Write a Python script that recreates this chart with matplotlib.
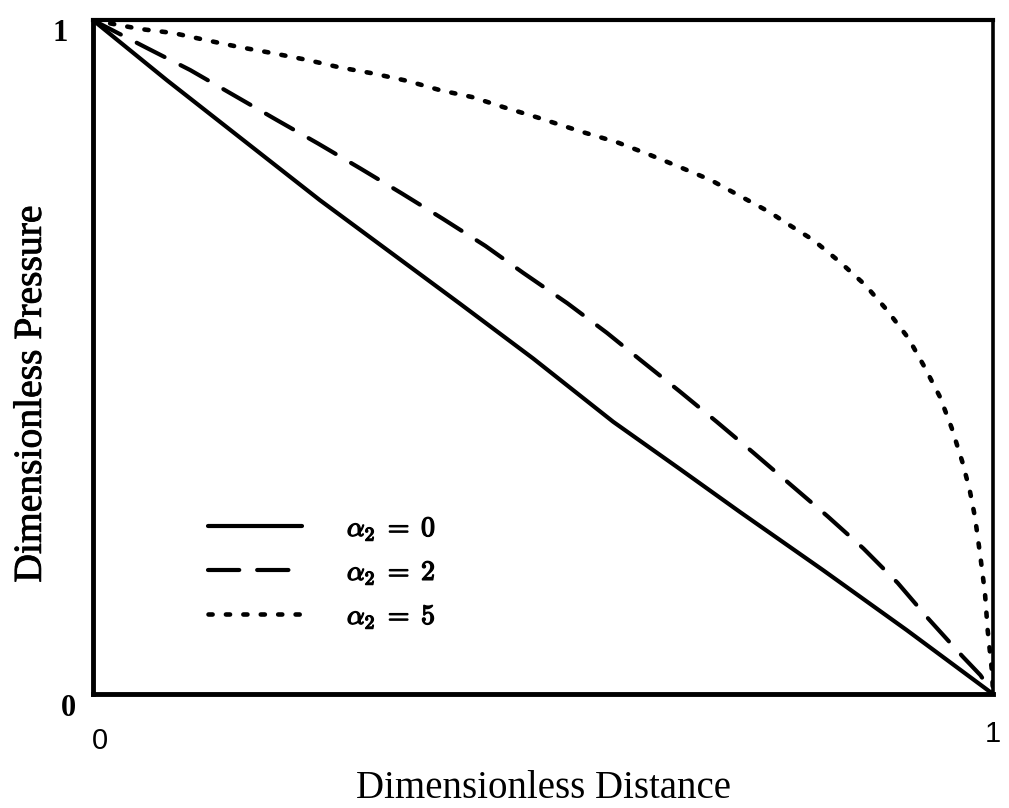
import matplotlib
matplotlib.use("Agg")
import matplotlib.pyplot as plt
import matplotlib.transforms as mtrans
import matplotlib.patheffects as pe

plt.rcParams['mathtext.fontset'] = 'cm'

# Data
x_a0 = [0.0, 0.082, 0.167, 0.252, 0.330, 0.408, 0.489, 0.578, 0.652, 0.719,
        0.811, 0.904, 1.0]
y_a0 = [1.0, 0.911, 0.822, 0.733, 0.656, 0.579, 0.498, 0.404, 0.334, 0.270,
        0.184, 0.095, 0.0]

x_a2 = [0.0, 0.058, 0.108, 0.156, 0.204, 0.250, 0.297, 0.343, 0.389, 0.436,
        0.478, 0.527, 0.571, 0.608, 0.652, 0.693, 0.733, 0.774, 0.816, 0.856,
        0.894, 0.928, 0.966, 0.986, 1.0]
y_a2 = [1.0, 0.960, 0.926, 0.889, 0.852, 0.817, 0.780, 0.743, 0.705, 0.665,
        0.625, 0.580, 0.536, 0.496, 0.449, 0.404, 0.359, 0.312, 0.264, 0.216,
        0.165, 0.112, 0.056, 0.028, 0.0]

x_a5 = [0.0, 0.052, 0.089, 0.127, 0.163, 0.200, 0.238, 0.274, 0.311, 0.349,
        0.386, 0.421, 0.456, 0.493, 0.544, 0.582, 0.619, 0.652, 0.686, 0.719,
        0.752, 0.769, 0.800, 0.830, 0.858, 0.882, 0.906, 0.924, 0.941, 0.954,
        0.966, 0.974, 0.980, 0.986, 0.991, 0.994, 0.999, 1.0]
y_a5 = [1.0, 0.987, 0.981, 0.970, 0.960, 0.951, 0.941, 0.930, 0.921, 0.910,
        0.896, 0.886, 0.871, 0.856, 0.834, 0.819, 0.800, 0.782, 0.763, 0.739,
        0.715, 0.700, 0.674, 0.641, 0.607, 0.570, 0.528, 0.485, 0.441, 0.395,
        0.344, 0.303, 0.262, 0.203, 0.150, 0.095, 0.031, 0.0]

labels = [r'$\alpha_2\;=\;0$', r'$\alpha_2\;=\;2$', r'$\alpha_2\;=\;5$']
x_ticks = [0, 1]
x_ticklabels = ['0', '1']
y_ticks = [0, 1]
y_ticklabels = ['0', '1']

fig = plt.figure(figsize=(10.09, 8.08), dpi=100)
ax = fig.add_axes([0.0922, 0.141, 0.892, 0.834])

lw = 3.0
ax.plot(x_a0, y_a0, color='black', lw=lw, solid_capstyle='round',
        solid_joinstyle='round', label=labels[0])
ax.plot(x_a2, y_a2, color='black', lw=lw, linestyle=(0, (7.5, 4.3)),
        dash_capstyle='round', dash_joinstyle='round', label=labels[1])
ax.plot(x_a5, y_a5, color='black', lw=3.3, linestyle=(0, (0.9, 2.9)),
        dash_capstyle='round', dash_joinstyle='round', label=labels[2])

ax.set_xlim(0, 1)
ax.set_ylim(0, 1)
ax.spines['left'].set_linewidth(3.5)
ax.spines['bottom'].set_linewidth(3.5)
ax.spines['top'].set_linewidth(3.0)
ax.spines['right'].set_linewidth(2.6)

ax.set_xticks(x_ticks)
ax.set_xticklabels(x_ticklabels, fontfamily='Liberation Sans', fontsize=21)
ax.set_yticks(y_ticks)
ax.set_yticklabels(y_ticklabels, fontfamily='Liberation Serif', fontsize=22,
                   fontweight='bold')
ax.tick_params(axis='x', length=0, pad=24)
ax.tick_params(axis='y', length=0, pad=0)

xl = ax.get_xticklabels()
xl[0].set_transform(xl[0].get_transform() + mtrans.ScaledTranslation(0.07, 0.0, fig.dpi_scale_trans))
xl[1].set_transform(xl[1].get_transform() + mtrans.ScaledTranslation(0, 0.07, fig.dpi_scale_trans))
yl = ax.get_yticklabels()
yl[0].set_transform(yl[0].get_transform() + mtrans.ScaledTranslation(-0.17, -0.11, fig.dpi_scale_trans))
yl[1].set_transform(yl[1].get_transform() + mtrans.ScaledTranslation(-0.25, -0.10, fig.dpi_scale_trans))

ax.set_xlabel('Dimensionless Distance', fontfamily='Liberation Serif',
              fontsize=28)
ax.xaxis.set_label_coords(0.5, -0.112)
ax.set_ylabel('Dimensionless Pressure', fontfamily='Liberation Serif',
              fontsize=28.5)
ax.yaxis.set_label_coords(-0.048, 0.445)
ax.yaxis.label.set_path_effects([pe.withStroke(linewidth=0.6, foreground='black')])

leg = ax.legend(loc='lower left', bbox_to_anchor=(0.10, 0.057), frameon=False,
                fontsize=20, handlelength=3.4, handletextpad=1.6,
                labelspacing=0.55)
for t in leg.get_texts():
    t.set_path_effects([pe.withStroke(linewidth=1.0, foreground='black')])

fig.savefig('out.png', dpi=100, facecolor='white')
